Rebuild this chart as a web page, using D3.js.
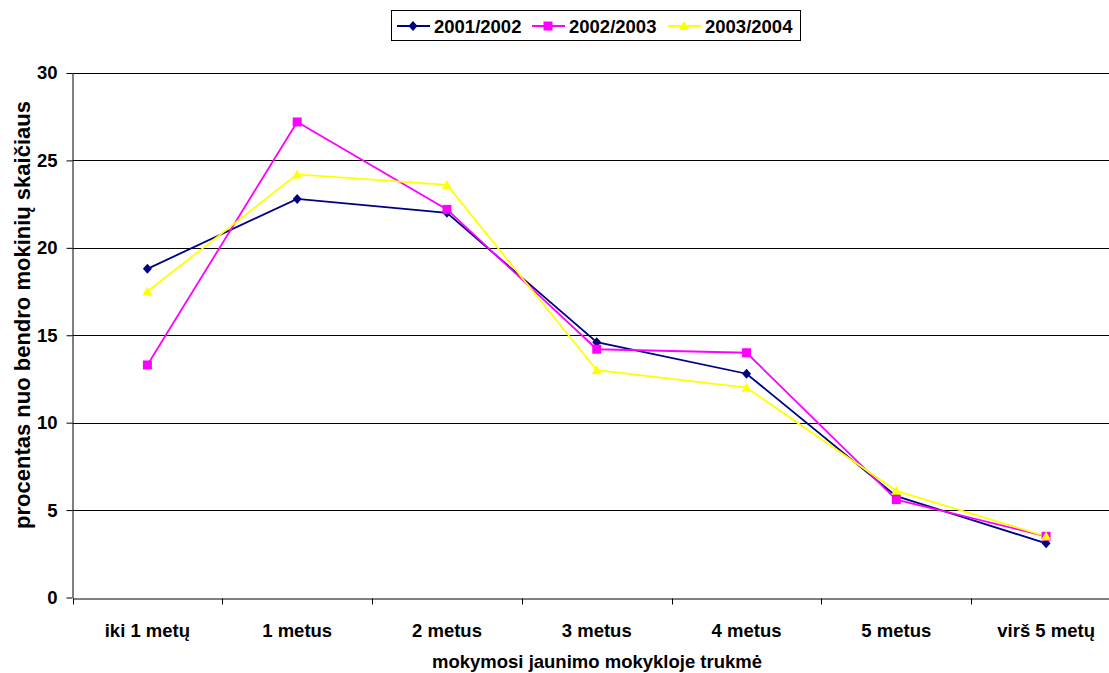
<!DOCTYPE html>
<html><head><meta charset="utf-8">
<script src="https://cdn.jsdelivr.net/npm/d3@7"></script>
<style>body{margin:0;background:#fff}svg{display:block}text{font-family:"Liberation Sans",Arial,sans-serif;font-weight:bold}</style>
</head><body><svg id="c" width="1109" height="673"></svg>
<script>
const categories = ["iki 1 metų","1 metus","2 metus","3 metus","4 metus","5 metus","virš 5 metų"];
const seriesNames = ["2001/2002","2002/2003","2003/2004"];
const s2001 = [18.8, 22.8, 22.0, 14.6, 12.8, 5.8, 3.1];
const s2002 = [13.3, 27.2, 22.2, 14.2, 14.0, 5.6, 3.5];
const s2003 = [17.5, 24.2, 23.6, 13.0, 12.0, 6.1, 3.5];
const yTicks = [0,5,10,15,20,25,30];
const colors = ["#000080","#FF00FF","#FFFF00"];
const seriesData = [s2001, s2002, s2003];

const diamond = {draw(ctx){ ctx.moveTo(0,-5); ctx.lineTo(4.5,0); ctx.lineTo(0,5); ctx.lineTo(-4.5,0); ctx.closePath(); }};
const square = {draw(ctx){ ctx.moveTo(-4.5,-4.5); ctx.lineTo(4.5,-4.5); ctx.lineTo(4.5,4.5); ctx.lineTo(-4.5,4.5); ctx.closePath(); }};
const triangle = {draw(ctx){ ctx.moveTo(0,-5); ctx.lineTo(5,4); ctx.lineTo(-5,4); ctx.closePath(); }};
const symbols = [diamond, square, triangle];

const FS = 18.5;
const svg = d3.select("#c");
const x = d3.scaleBand().domain(categories).range([72.5, 1121]);
const y = d3.scaleLinear().domain([0,30]).range([597.5, 73]);

// gridlines
svg.append("g").selectAll("line").data(yTicks.filter(d=>d>0)).join("line")
  .attr("x1",72.5).attr("x2",1121).attr("y1",d=>Math.round(y(d))+0.5).attr("y2",d=>Math.round(y(d))+0.5)
  .attr("stroke","#000").attr("stroke-width",1);

// y axis
const ya = svg.append("g").attr("transform","translate(72.5,0)")
  .call(d3.axisLeft(y).tickValues(yTicks).tickSize(6).tickPadding(9).tickSizeOuter(0));
ya.select(".domain").attr("stroke","#000");
ya.selectAll(".tick line").attr("stroke","#000");
ya.selectAll("text").attr("font-size",FS).attr("fill","#000").attr("font-family","Liberation Sans, Arial, sans-serif").attr("font-weight","bold");

// x axis
const xa = svg.append("g").attr("transform","translate(0,"+(Math.round(y(0))+0.5)+")")
  .call(d3.axisBottom(x).tickSize(0).tickPadding(25).tickSizeOuter(0));
xa.select(".domain").attr("stroke","#000");
xa.selectAll("text").attr("font-size",FS).attr("fill","#000").attr("font-family","Liberation Sans, Arial, sans-serif").attr("font-weight","bold");
xa.append("g").selectAll("line").data(categories.map((c,i)=>x.range()[0]+i*x.step())).join("line")
  .attr("x1",d=>Math.round(d)+0.5).attr("x2",d=>Math.round(d)+0.5).attr("y1",0).attr("y2",6).attr("stroke","#000");

// series
const line = d3.line().x((d,i)=>x(categories[i])+x.bandwidth()/2).y(d=>y(d));
seriesData.forEach((data,k)=>{
  svg.append("path").datum(data).attr("d",line).attr("fill","none").attr("stroke",colors[k]).attr("stroke-width",1.8);
});
seriesData.forEach((data,k)=>{
  svg.append("g").selectAll("path").data(data).join("path")
    .attr("d",d3.symbol().type(symbols[k]))
    .attr("transform",(d,i)=>"translate("+(x(categories[i])+x.bandwidth()/2)+","+y(d)+")")
    .attr("fill",colors[k]);
});

// axis titles
svg.append("text").attr("x",597).attr("y",668).attr("text-anchor","middle").attr("font-size",FS).text("mokymosi jaunimo mokykloje trukmė");
svg.append("text").attr("transform","translate(29.5,315) rotate(-90)").attr("text-anchor","middle").attr("font-size",22).text("procentas nuo bendro mokinių skaičiaus");

// legend
const lg = svg.append("g");
lg.append("rect").attr("x",391.5).attr("y",10.5).attr("width",409).attr("height",30).attr("fill","#fff").attr("stroke","#000");
const lx = [397, 532, 668];
seriesNames.forEach((n,k)=>{
  lg.append("line").attr("x1",lx[k]).attr("x2",lx[k]+33).attr("y1",26).attr("y2",26).attr("stroke",colors[k]).attr("stroke-width",1.8);
  lg.append("path").attr("d",d3.symbol().type(symbols[k])).attr("transform","translate("+(lx[k]+16)+",26)").attr("fill",colors[k]);
  lg.append("text").attr("x",lx[k]+37).attr("y",33).attr("font-size",FS).text(n);
});
</script></body></html>
